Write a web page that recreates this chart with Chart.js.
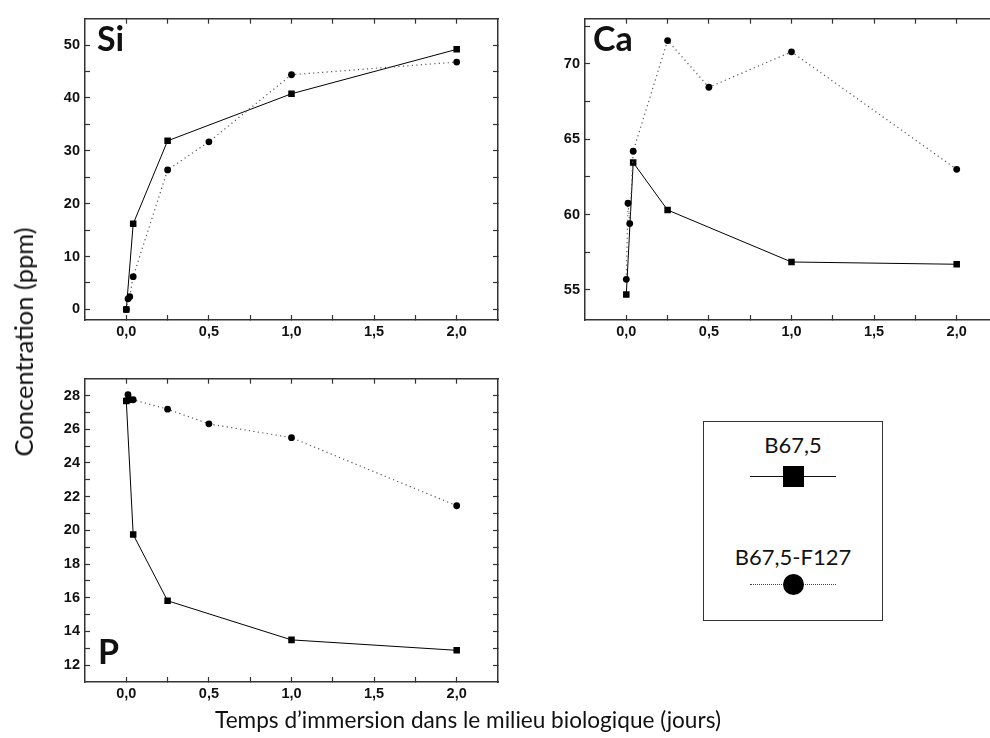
<!DOCTYPE html>
<html>
<head>
<meta charset="utf-8">
<script src="https://cdn.jsdelivr.net/npm/chart.js@4.4.0/dist/chart.umd.min.js"></script>
<style>
  body { margin: 0; width: 990px; height: 738px; overflow: hidden; background: #fff; position: relative; font-family: Lato, "Open Sans", sans-serif; color: #111; }
  canvas { position: absolute; }
  .tag { position: absolute; font-weight: bold; font-size: 34px; line-height: 34px; }
  .axt { position: absolute; white-space: nowrap; }
  #legend { position: absolute; left: 703px; top: 421px; width: 178px; height: 198px; border: 1.5px solid #333; }
  #legend .lab { position: absolute; width: 100%; text-align: center; font-size: 22px; line-height: 22px; }
  #legend .ln { position: absolute; left: 46px; width: 86px; height: 0; }
</style>
</head>
<body>
<canvas id="si" width="510" height="350" style="left:0;top:0"></canvas>
<canvas id="ca" width="510" height="350" style="left:500px;top:0"></canvas>
<canvas id="p" width="510" height="350" style="left:0;top:360px"></canvas>

<div class="tag" style="left:97px;top:21px">Si</div>
<div class="tag" style="left:593px;top:21px">Ca</div>
<div class="tag" style="left:98px;top:634px">P</div>

<div class="axt" style="left:23px;top:342px;font-size:25.5px;line-height:26px;transform:translate(-50%,-50%) rotate(-90deg)">Concentration (ppm)</div>
<div class="axt" style="left:468px;top:719px;font-size:22.6px;line-height:23px;transform:translate(-50%,-50%)">Temps d’immersion dans le milieu biologique (jours)</div>

<div id="legend">
  <div class="lab" style="top:12px">B67,5</div>
  <div class="ln" style="top:54px;border-top:1px solid #111"></div>
  <div style="position:absolute;left:79px;top:44px;width:21px;height:21px;background:#000"></div>
  <div class="lab" style="top:124px">B67,5-F127</div>
  <div class="ln" style="top:162px;border-top:1px dotted #444"></div>
  <div style="position:absolute;left:79px;top:152px;width:21px;height:21px;border-radius:50%;background:#000"></div>
</div>

<script>
// immersion times in days (0, 15 min, 30 min, 1 h, 6 h, 12 h, 1 d, 2 d)
const times = [0, 0.0104, 0.0208, 0.0417, 0.25, 0.5, 1, 2];

const siB675 = [0, null, null, 16.2, 31.9, null, 40.8, 49.2];
const siF127 = [0, 2.0, 2.4, 6.2, 26.4, 31.7, 44.4, 46.8];

const caB675 = [54.7, null, null, 63.45, 60.3, null, 56.85, 56.7];
const caF127 = [55.7, 60.75, 59.4, 64.2, 71.55, 68.45, 70.8, 63.0];

const pB675 = [27.68, null, null, 19.75, 15.82, null, 13.5, 12.88];
const pF127 = [27.7, 28.05, 27.75, 27.75, 27.19, 26.32, 25.5, 21.46];

const xTickVals = [0, 0.25, 0.5, 0.75, 1, 1.25, 1.5, 1.75, 2];
const xLabelVals = [0, 0.5, 1, 1.5, 2];

const siTickVals = [0, 5, 10, 15, 20, 25, 30, 35, 40, 45, 50];
const siLabelVals = [0, 10, 20, 30, 40, 50];
const caTickVals = [55, 57.5, 60, 62.5, 65, 67.5, 70, 72.5];
const caLabelVals = [55, 60, 65, 70];
const pTickVals = [12, 13, 14, 15, 16, 17, 18, 19, 20, 21, 22, 23, 24, 25, 26, 27, 28];
const pLabelVals = [12, 14, 16, 18, 20, 22, 24, 26, 28];

const tickFont = { family: "'Liberation Sans', Arial, sans-serif", size: 14.5, weight: 'bold' };

function pts(vals) {
    return times.map((t, i) => ({ x: t, y: vals[i] })).filter(p => p.y !== null);
}

function axis(pos, min, max, tickVals, labelVals, showLabels) {
    const horiz = pos === 'top' || pos === 'bottom';
    return {
        type: 'linear',
        position: pos,
        min: min,
        max: max,
        afterBuildTicks: s => { s.ticks = tickVals.map(v => ({ value: v })); },
        afterFit: s => {
            if (horiz) s.height = showLabels ? 25 : 0;
            else s.width = showLabels ? 85 : 0;
        },
        border: { display: true, color: '#333', width: 1.5 },
        grid: { display: true, drawOnChartArea: false, drawTicks: true, tickLength: -5, tickColor: '#333', tickWidth: 1.2 },
        ticks: {
            display: showLabels,
            autoSkip: false,
            maxRotation: 0,
            padding: horiz ? 8 : 10,
            color: '#111',
            font: tickFont,
            callback: v => {
                if (!labelVals.some(l => Math.abs(l - v) < 1e-6)) return '';
                return horiz ? v.toFixed(1).replace('.', ',') : String(v);
            }
        }
    };
}

function makePanel(id, b675, f127, yMin, yMax, yTicks, yLabels, padTop, padBottom) {
    new Chart(document.getElementById(id), {
        type: 'line',
        data: {
            datasets: [
                {
                    label: 'B67,5-F127',
                    data: pts(f127),
                    borderColor: '#555',
                    borderWidth: 1.2,
                    borderDash: [1.2, 3.3],
                    pointStyle: 'circle',
                    pointRadius: 3.4,
                    pointBackgroundColor: '#000',
                    pointBorderColor: '#000',
                    pointBorderWidth: 0,
                    tension: 0
                },
                {
                    label: 'B67,5',
                    data: pts(b675),
                    borderColor: '#000',
                    borderWidth: 1,
                    pointStyle: 'rect',
                    pointRadius: 4.6,
                    pointBackgroundColor: '#000',
                    pointBorderColor: '#000',
                    pointBorderWidth: 0,
                    tension: 0
                }
            ]
        },
        options: {
            responsive: false,
            animation: false,
            layout: { padding: { left: 0, right: 12, top: padTop, bottom: padBottom } },
            plugins: { legend: { display: false }, tooltip: { enabled: false } },
            scales: {
                x: axis('bottom', -0.25, 2.25, xTickVals, xLabelVals, true),
                x2: axis('top', -0.25, 2.25, xTickVals, xLabelVals, false),
                y: axis('left', yMin, yMax, yTicks, yLabels, true),
                y2: axis('right', yMin, yMax, yTicks, yLabels, false)
            }
        }
    });
}

makePanel('si', siB675, siF127, -2, 55, siTickVals, siLabelVals, 9, 5);
makePanel('ca', caB675, caF127, 53, 73, caTickVals, caLabelVals, 9, 5);
makePanel('p', pB675, pF127, 11, 29, pTickVals, pLabelVals, 11, 3);
</script>
</body>
</html>
